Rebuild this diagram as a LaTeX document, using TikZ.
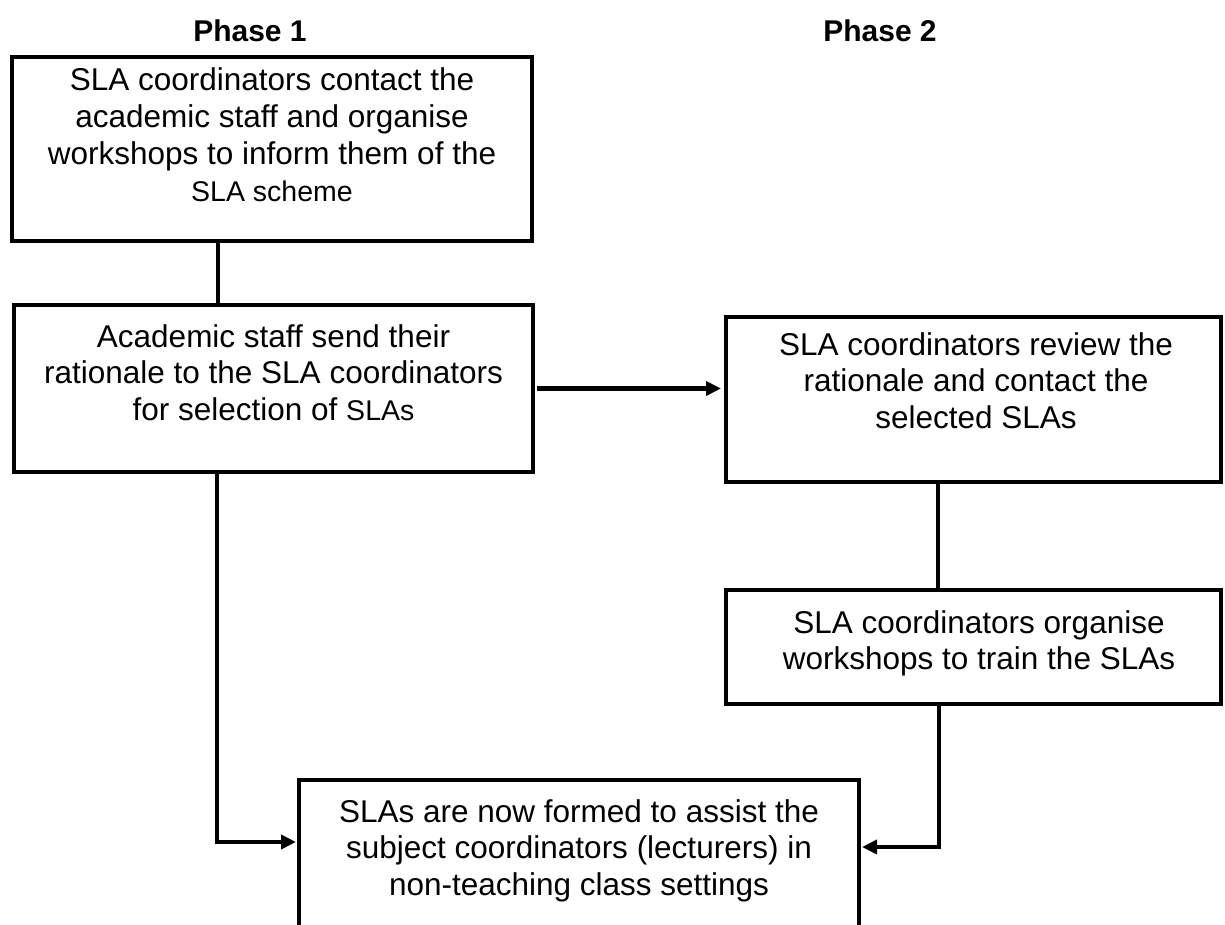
\documentclass[tikz,border=0pt]{standalone}
\usepackage{fontspec}
\setmainfont{Liberation Sans}
\usetikzlibrary{arrows.meta,calc}
\begin{document}
\begin{tikzpicture}[x=1pt,y=-1pt,
  box/.style={draw, line width=4.8pt, inner sep=0pt, outer sep=0pt},
  txt/.style={anchor=base, inner sep=0pt, font=\fontsize{31.5}{36.7}\selectfont},
  phase/.style={anchor=base, inner sep=0pt, font=\bfseries\fontsize{30}{36}\selectfont},
  conn/.style={line width=4.8pt},
  arr/.style={line width=4.8pt, -{Triangle[length=15pt,width=14pt]}}]
\useasboundingbox (0,0) rectangle (1225,925);
\clip (0,0) rectangle (1225,925);
\newcommand{\sm}[1]{{\fontsize{28.5}{36.7}\selectfont #1}}
% phase labels
\node[phase] (p1) at (250,42) {Phase 1};
\node[phase] (p2) at (880,42) {Phase 2};
% boxes
\node[box, minimum width=520pt, minimum height=184pt] (b1) at (272,149) {};
\node[box, minimum width=519pt, minimum height=167pt] (b2) at (273.5,388.5) {};
\node[box, minimum width=495pt, minimum height=165pt] (b3) at (973.5,399.5) {};
\node[box, minimum width=495pt, minimum height=114pt] (b4) at (973.5,647) {};
\node[box, minimum width=560pt, minimum height=240pt] (b5) at (579,900) {};
% texts
\node[txt] (t1) at (272,91) {\begin{tabular}[t]{@{}c@{}}SLA coordinators contact the\\academic staff and organise\\workshops to inform them of the\\\sm{SLA scheme}\end{tabular}};
\node[txt] (t2) at (273.5,347) {\begin{tabular}[t]{@{}c@{}}Academic staff send their\\rationale to the SLA coordinators\\for selection of \sm{SLAs}\end{tabular}};
\node[txt] (t3) at (976,355) {\begin{tabular}[t]{@{}c@{}}SLA coordinators review the\\rationale and contact the\\selected SLAs\end{tabular}};
\node[txt] (t4) at (979,633) {\begin{tabular}[t]{@{}c@{}}SLA coordinators organise\\workshops to train the SLAs\end{tabular}};
\node[txt] (t5) at (579,822) {\begin{tabular}[t]{@{}c@{}}SLAs are now formed to assist the\\subject coordinators (lecturers) in\\non-teaching class settings\end{tabular}};
% connectors
\draw[conn] ([xshift=-54pt]b1.south) -- ([xshift=-54pt]b1.south |- b2.north);
\draw[arr, shorten <=4pt, shorten >=5pt] (b2.east) -- (b2.east -| b3.west);
\draw[conn] ([xshift=-35.5pt]b3.south) -- ([xshift=-35.5pt]b3.south |- b4.north);
\coordinate (l5) at (b5.west |- 0,842);
\coordinate (r5) at (b5.east |- 0,847);
\draw[arr, shorten >=3pt] ([xshift=-56.5pt]b2.south) |- (l5);
\draw[arr, shorten >=3pt] ([xshift=-34.5pt]b4.south) |- (r5);
\end{tikzpicture}
\end{document}
